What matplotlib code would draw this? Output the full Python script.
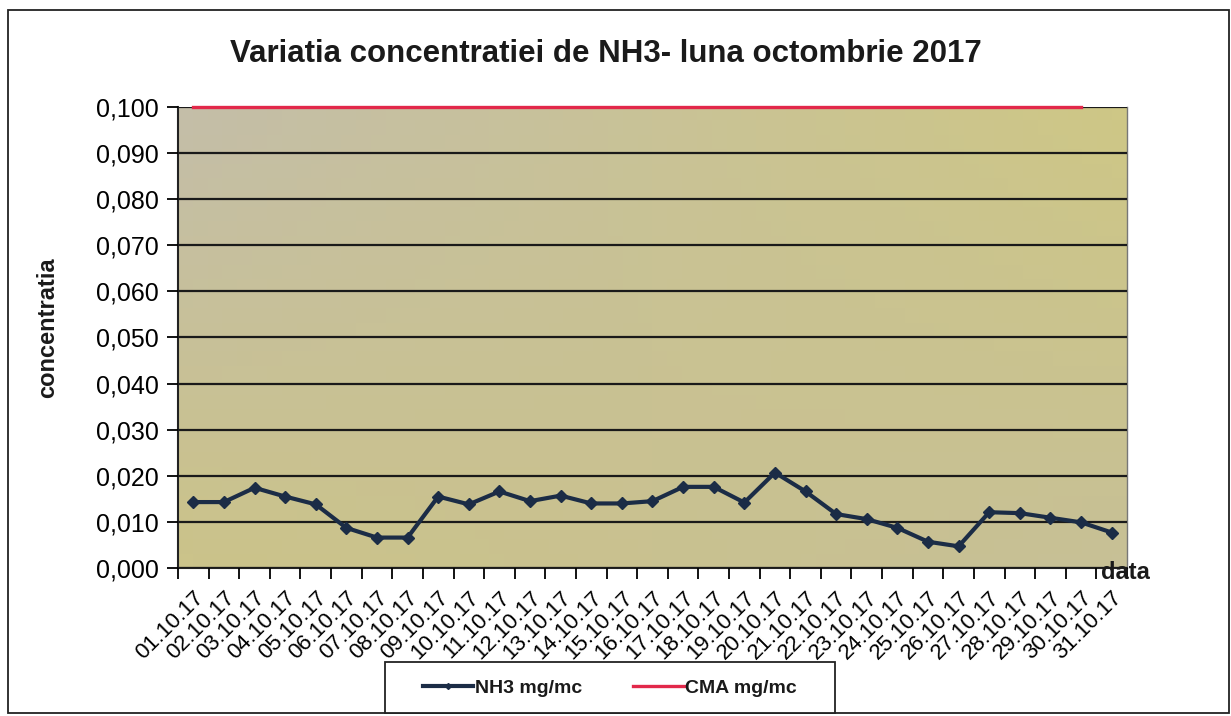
import numpy as np
import matplotlib
matplotlib.use("Agg")
import matplotlib.pyplot as plt
from matplotlib.patches import Rectangle
from matplotlib.ticker import FuncFormatter, MultipleLocator

# data
dates = [f"{d:02d}.10.17" for d in range(1, 32)]
nh3 = [0.0143, 0.0143, 0.0174, 0.0155, 0.0138, 0.0087, 0.0066, 0.0066,
       0.0155, 0.0138, 0.0166, 0.0145, 0.0157, 0.0140, 0.0140, 0.0145,
       0.0176, 0.0176, 0.0142, 0.0207, 0.0166, 0.0117, 0.0106, 0.0087,
       0.0057, 0.0047, 0.0121, 0.0119, 0.0109, 0.0099, 0.0077]
cma = [0.100] * 30

plt.rcParams['font.family'] = ['Liberation Sans', 'DejaVu Sans']

fig = plt.figure(figsize=(12.31, 7.16), dpi=100)
ax = fig.add_axes([0.1446, 0.2067, 0.7709, 0.6439])

# plot area fill, soft khaki gradient like the scan
c_tl = np.array([196, 190, 168]) / 255
c_tr = np.array([206, 199, 134]) / 255
c_bl = np.array([203, 195, 138]) / 255
c_br = np.array([199, 192, 150]) / 255
u = np.linspace(0, 1, 64)[None, :, None]
v = np.linspace(0, 1, 32)[:, None, None]
grad = (1 - v) * ((1 - u) * c_tl + u * c_tr) + v * ((1 - u) * c_bl + u * c_br)
ax.imshow(grad, extent=[0, 1, 0, 1], transform=ax.transAxes, aspect='auto', zorder=0)

x = np.arange(len(dates))
ax.plot(x, nh3, color='#1b2c46', lw=3.0, marker='D', markersize=6.5, zorder=4,
        label='NH3 mg/mc')
ax.plot(x[:len(cma)], cma, color='#e2284a', lw=2.4, zorder=4, clip_on=False,
        label='CMA mg/mc')

ax.set_xlim(-0.5, len(dates) - 0.5)
ax.set_ylim(0, 0.1)
ax.yaxis.set_major_locator(MultipleLocator(0.01))
ax.yaxis.set_major_formatter(FuncFormatter(lambda v, p: f"{v:.3f}".replace('.', ',')))
ax.grid(axis='y', color='#1a1a1a', lw=1.6, zorder=2)
ax.set_axisbelow(False)

ax.set_xticks(x)
ax.set_xticklabels(dates, rotation=45, ha='right', rotation_mode='anchor', fontsize=16)
ax.set_xticks(np.arange(-0.5, len(dates)), minor=True)
ax.tick_params(axis='x', which='major', length=0, pad=14)
ax.tick_params(axis='x', which='minor', length=8, width=1.3, direction='out')
ax.tick_params(axis='y', length=8, width=1.3, labelsize=18, pad=6)

for s in ['left', 'bottom']:
    ax.spines[s].set_color('#222222')
    ax.spines[s].set_linewidth(1.5)
ax.spines['right'].set_color('#777777')
ax.spines['right'].set_linewidth(1.0)
ax.spines['top'].set_visible(False)

fig.text(0.4925, 0.924, 'Variatia concentratiei de NH3- luna octombrie 2017',
         fontsize=22.5, fontweight='bold', ha='center', va='center', color='#1a1a1a')
fig.text(0.039, 0.543, 'concentratia', fontsize=17, fontweight='bold',
         rotation=90, ha='center', va='center', color='#1a1a1a')
fig.text(0.894, 0.201, 'data', fontsize=17, fontweight='bold',
         ha='left', va='center', color='#1a1a1a')

# outer chart frame
fig.patches.append(Rectangle((8 / 1231, 3 / 716), 1221 / 1231, 703 / 716,
                             transform=fig.transFigure, fill=False,
                             edgecolor='#222222', lw=1.3))
# legend box
fig.patches.append(Rectangle((385 / 1231, 3 / 716), 450 / 1231, 51 / 716,
                             transform=fig.transFigure, facecolor='white',
                             edgecolor='#222222', lw=1.3, zorder=1))

leg = fig.legend(loc='center', bbox_to_anchor=(0.4955, 0.039), ncol=2,
                 fontsize=14, frameon=False, handlelength=2.6,
                 columnspacing=2.6, handletextpad=0.1)
for t in leg.get_texts():
    t.set_fontweight('bold')
    t.set_color('#1a1a1a')
for h in leg.legend_handles:
    h.set_markersize(3)

fig.savefig('out.png', dpi=100)
